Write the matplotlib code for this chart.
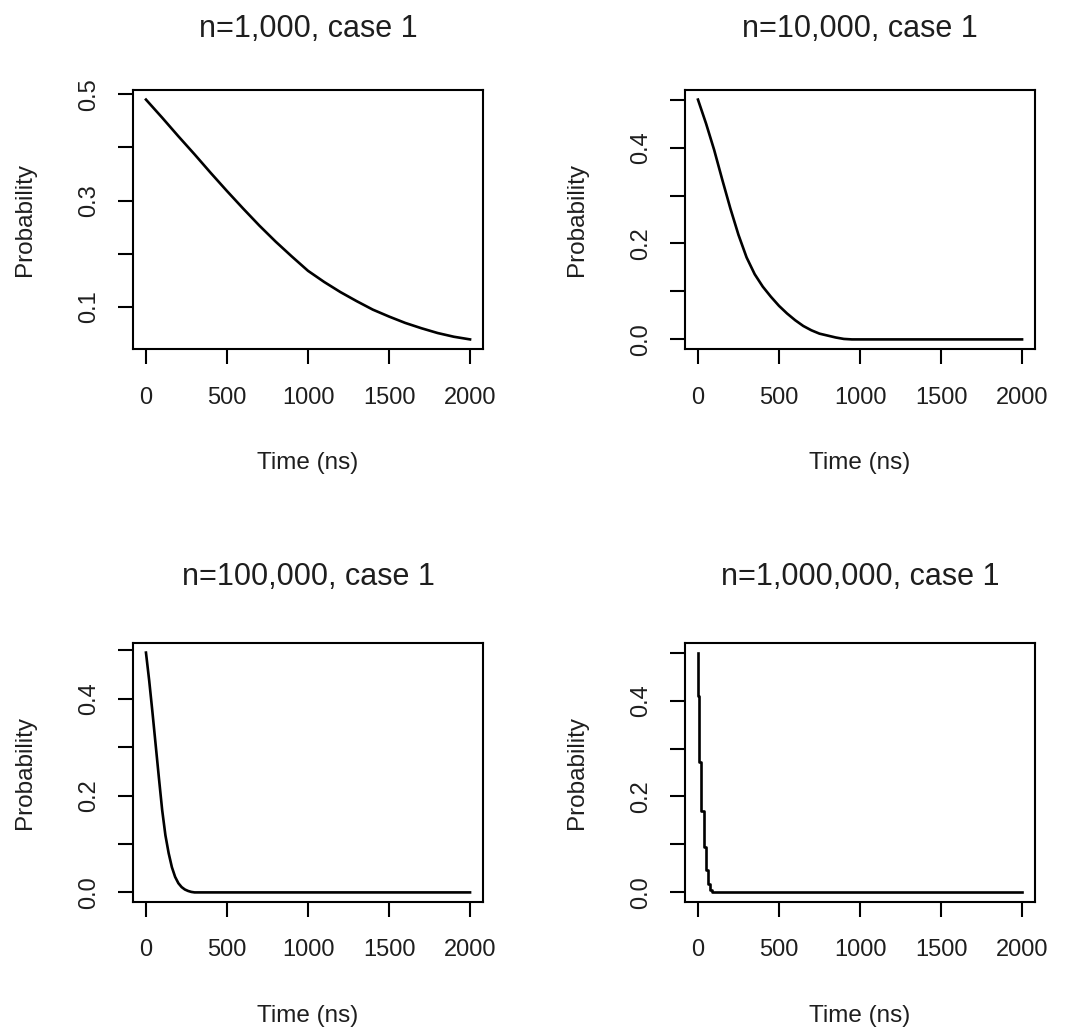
import matplotlib
matplotlib.use("Agg")
import matplotlib.pyplot as plt
import numpy as np

plt.rcParams['font.family'] = ['Liberation Sans', 'DejaVu Sans']

# ---------------- data ----------------
titles = ["n=1,000, case 1", "n=10,000, case 1", "n=100,000, case 1", "n=1,000,000, case 1"]

t1 = [0, 100, 200, 300, 400, 500, 600, 700, 800, 900, 1000, 1100, 1200, 1300,
      1400, 1500, 1600, 1700, 1800, 1900, 2000]
p1 = [0.490, 0.456, 0.421, 0.387, 0.352, 0.318, 0.285, 0.253, 0.223, 0.195, 0.168,
      0.147, 0.128, 0.111, 0.095, 0.082, 0.070, 0.060, 0.051, 0.044, 0.039]

t2 = [0, 50, 100, 150, 200, 250, 300, 350, 400, 450, 500, 550, 600, 650, 700,
      750, 800, 850, 900, 950, 1000, 1500, 2000]
p2 = [0.500, 0.450, 0.395, 0.333, 0.273, 0.218, 0.171, 0.136, 0.110, 0.089, 0.070,
      0.054, 0.040, 0.028, 0.019, 0.012, 0.008, 0.004, 0.001, 0.0, 0.0, 0.0, 0.0]

t3 = [0, 20, 40, 60, 80, 100, 120, 140, 160, 180, 200, 220, 240, 260, 280, 300,
      500, 1000, 1500, 2000]
p3 = [0.495, 0.437, 0.372, 0.304, 0.236, 0.170, 0.118, 0.081, 0.052, 0.032, 0.019,
      0.011, 0.006, 0.003, 0.001, 0.0, 0.0, 0.0, 0.0, 0.0]

t4 = [0, 6, 21, 37, 51, 64, 74, 84, 2000]
p4 = [0.500, 0.409, 0.271, 0.170, 0.094, 0.047, 0.017, 0.005, 0.0]

xticks = [0, 500, 1000, 1500, 2000]
xticklabels = ["0", "500", "1000", "1500", "2000"]
yticks1 = [0.1, 0.2, 0.3, 0.4, 0.5]
yticklabels1 = ["0.1", "", "0.3", "", "0.5"]
yticks2 = [0.0, 0.1, 0.2, 0.3, 0.4, 0.5]
yticklabels2 = ["0.0", "", "0.2", "", "0.4", ""]

xlabel = "Time (ns)"
ylabel = "Probability"

# ---------------- layout ----------------
W, H = 1065, 1031
fig = plt.figure(figsize=(W / 100, H / 100), dpi=100)
fig.patch.set_facecolor("white")

boxes = [(133, 90, 483, 349), (685, 90, 1035, 349),
         (133, 643, 483, 902), (685, 643, 1035, 902)]
title_y = [1.235, 1.235, 1.255, 1.255]

series = [(t1, p1, yticks1, yticklabels1, 'default'),
          (t2, p2, yticks2, yticklabels2, 'default'),
          (t3, p3, yticks2, yticklabels2, 'default'),
          (t4, p4, yticks2, yticklabels2, 'steps-pre')]

for (l, t, r, b), (tt, pp, yt, ytl, ds), title, ty in zip(boxes, series, titles, title_y):
    ax = fig.add_axes([l / W, 1 - b / H, (r - l) / W, (b - t) / H])
    ax.plot(tt, pp, color="black", lw=1.9, drawstyle=ds)
    ax.set_xlim(-80, 2080)
    ymin, ymax = min(pp), max(pp)
    rng = ymax - ymin
    ax.set_ylim(ymin - 0.04 * rng, ymax + 0.04 * rng)
    ax.set_xticks(xticks)
    ax.set_xticklabels(xticklabels)
    ax.set_yticks(yt)
    ax.set_yticklabels(ytl, rotation=90, va="center")
    ax.tick_params(axis="both", direction="out", length=11, width=1.5,
                   labelsize=17, color="black", labelcolor="#1e1e1e")
    ax.tick_params(axis="x", pad=16)
    ax.tick_params(axis="y", pad=13)
    for s in ax.spines.values():
        s.set_linewidth(1.5)
        s.set_color("black")
    ax.set_xlabel(xlabel, fontsize=17.5, color="#1e1e1e")
    ax.xaxis.set_label_coords(0.5, -0.44)
    ax.xaxis.label.set_va("center")
    ax.set_ylabel(ylabel, fontsize=17.5, color="#1e1e1e")
    ax.yaxis.set_label_coords(-0.31, 0.5)
    ax.yaxis.label.set_va("center")
    ax.text(0.5, ty, title, transform=ax.transAxes, ha="center", va="center",
            fontsize=22, color="#1e1e1e")

fig.savefig("out.png", dpi=100, facecolor="white")
